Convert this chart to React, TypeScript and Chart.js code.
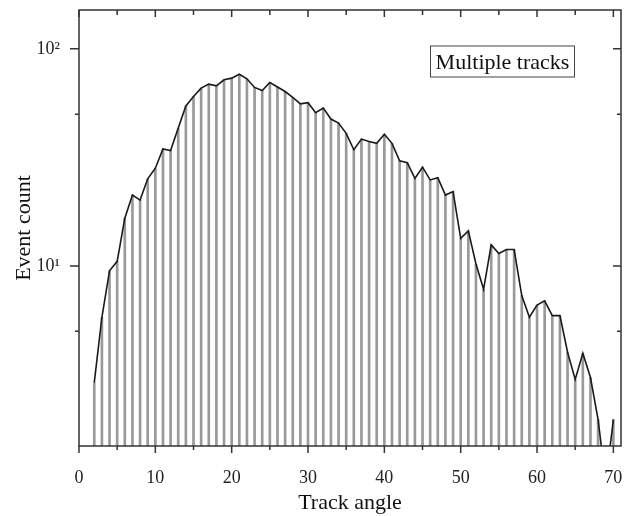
import React, { useEffect, useRef } from "react";
import { Chart, registerables } from "chart.js";

Chart.register(...registerables);

const angles = [
  2, 3, 4, 5, 6, 7, 8, 9, 10, 11, 12, 13, 14, 15, 16, 17, 18, 19, 20, 21, 22, 23, 24, 25, 26, 27, 28, 29, 30,
  31, 32, 33, 34, 35, 36, 37, 38, 39, 40, 41, 42, 43, 44, 45, 46, 47, 48, 49, 50, 51, 52, 53, 54, 55, 56, 57,
  58, 59, 60, 61, 62, 63, 64, 65, 66, 67, 68, 69, 70,
];
const counts = [
  2.9, 5.8, 9.5, 10.5, 16.6, 21.2, 20.1, 25.2, 28.2, 34.6, 34.0, 43.2, 54.6, 60.3, 65.9, 68.8, 67.5, 72, 73.3,
  76.4, 72.8, 66.4, 64.3, 70, 66.7, 63.6, 59.7, 55.8, 56.5, 50.8, 53.4, 47.5, 45.5, 40.8, 34.3, 38.4, 37.4,
  36.7, 40.4, 36.7, 30.5, 29.9, 25.3, 28.5, 24.9, 25.5, 21.2, 22, 13.4, 14.5, 10.2, 7.8, 12.5, 11.4, 11.9,
  11.9, 7.3, 5.8, 6.6, 6.9, 5.9, 5.9, 4.0, 3.0, 3.96, 3.06, 1.96, 1, 1.96,
];

const xMajorTicks = [0, 10, 20, 30, 40, 50, 60, 70];
const xMinorTicks = [5, 15, 25, 35, 45, 55, 65];
const yMajorTicks = [10, 100];
const yMinorTicks = [5, 50];
const yTickLabels = ["10\u00b9", "10\u00b2"];
const legendText = "Multiple tracks";

const FONT = "'Liberation Serif', 'Times New Roman', serif";

const framePlugin = {
  id: "frameTicks",
  afterDraw(chart: any) {
    const { ctx, chartArea } = chart;
    const { left, right, top, bottom } = chartArea;
    const xs = chart.scales.x;
    const ys = chart.scales.y;
    ctx.save();
    ctx.strokeStyle = "#333";
    ctx.lineWidth = 1.5;
    ctx.strokeRect(left, top, right - left, bottom - top);
    ctx.beginPath();
    const xt = (v: number, len: number, inLen: number) => {
      const px = xs.getPixelForValue(v);
      ctx.moveTo(px, bottom);
      ctx.lineTo(px, bottom + len);
      ctx.moveTo(px, top);
      ctx.lineTo(px, top + inLen);
    };
    xMajorTicks.forEach((v) => xt(v, 7, 7));
    xMinorTicks.forEach((v) => xt(v, 4, 5));
    const yt = (v: number, len: number, inLen: number) => {
      const py = ys.getPixelForValue(v);
      ctx.moveTo(left, py);
      ctx.lineTo(left - len, py);
      ctx.moveTo(right, py);
      ctx.lineTo(right - inLen, py);
    };
    yMajorTicks.forEach((v) => yt(v, 9, 8));
    yMinorTicks.forEach((v) => yt(v, 4, 4));
    ctx.stroke();

    // annotation box
    const bx = right - 190.5;
    const by = top + 36;
    const bw = 144;
    const bh = 31;
    ctx.lineWidth = 1;
    ctx.strokeStyle = "#444";
    ctx.strokeRect(bx, by, bw, bh);
    ctx.fillStyle = "#111";
    ctx.font = `22px ${FONT}`;
    ctx.textAlign = "center";
    ctx.textBaseline = "alphabetic";
    ctx.fillText(legendText, bx + bw / 2, by + 22.5);
    ctx.restore();
  },
};

export default function App() {
  const ref = useRef<HTMLCanvasElement>(null);
  useEffect(() => {
    if (!ref.current) return;
    const points = angles.map((a, i) => ({ x: a, y: counts[i] }));
    const chart = new Chart(ref.current, {
      type: "bar",
      data: {
        datasets: [
          {
            type: "line",
            data: points,
            borderColor: "#1a1a1a",
            borderWidth: 1.6,
            pointRadius: 0,
            tension: 0,
            order: 0,
          } as any,
          {
            type: "bar",
            data: points,
            backgroundColor: "#999999",
            barThickness: 2,
            order: 1,
          } as any,
        ],
      },
      plugins: [framePlugin],
      options: {
        animation: false,
        responsive: false,
        layout: { padding: { left: 0, top: 10, right: 15, bottom: 0 } },
        plugins: { legend: { display: false }, tooltip: { enabled: false } },
        scales: {
          x: {
            type: "linear",
            offset: false,
            min: 0,
            max: 71,
            grid: { display: false, offset: false },
            border: { display: false },
            afterBuildTicks: (s: any) => {
              s.ticks = xMajorTicks.map((v) => ({ value: v }));
            },
            afterFit: (s: any) => {
              s.height = 70;
              s.paddingLeft = 0;
              s.paddingRight = 0;
            },
            ticks: {
              padding: 13,
              color: "#222",
              font: { family: FONT, size: 18 },
              callback: (v: any) => String(v),
            },
            title: {
              display: true,
              text: "Track angle",
              color: "#111",
              font: { family: FONT, size: 22 },
              padding: { top: 0, bottom: 0 },
            },
          },
          y: {
            type: "logarithmic",
            min: 1.48,
            max: 151,
            grid: { display: false },
            border: { display: false },
            afterBuildTicks: (s: any) => {
              s.ticks = yMajorTicks.map((v) => ({ value: v }));
            },
            afterFit: (s: any) => {
              s.width = 79;
              s.paddingTop = 0;
              s.paddingBottom = 0;
            },
            ticks: {
              padding: 11,
              color: "#222",
              font: { family: FONT, size: 18 },
              callback: (v: any) => yTickLabels[yMajorTicks.indexOf(Number(v))] ?? "",
            },
            title: {
              display: true,
              text: "Event count",
              color: "#111",
              font: { family: FONT, size: 22 },
              padding: { top: 11, bottom: 0 },
            },
          },
        },
      } as any,
    });
    return () => chart.destroy();
  }, []);
  return (
    <div style={{ position: "fixed", left: 0, top: 0, width: 636, height: 516, background: "#fff" }}>
      <canvas ref={ref} width={636} height={516} style={{ display: "block" }} />
    </div>
  );
}
